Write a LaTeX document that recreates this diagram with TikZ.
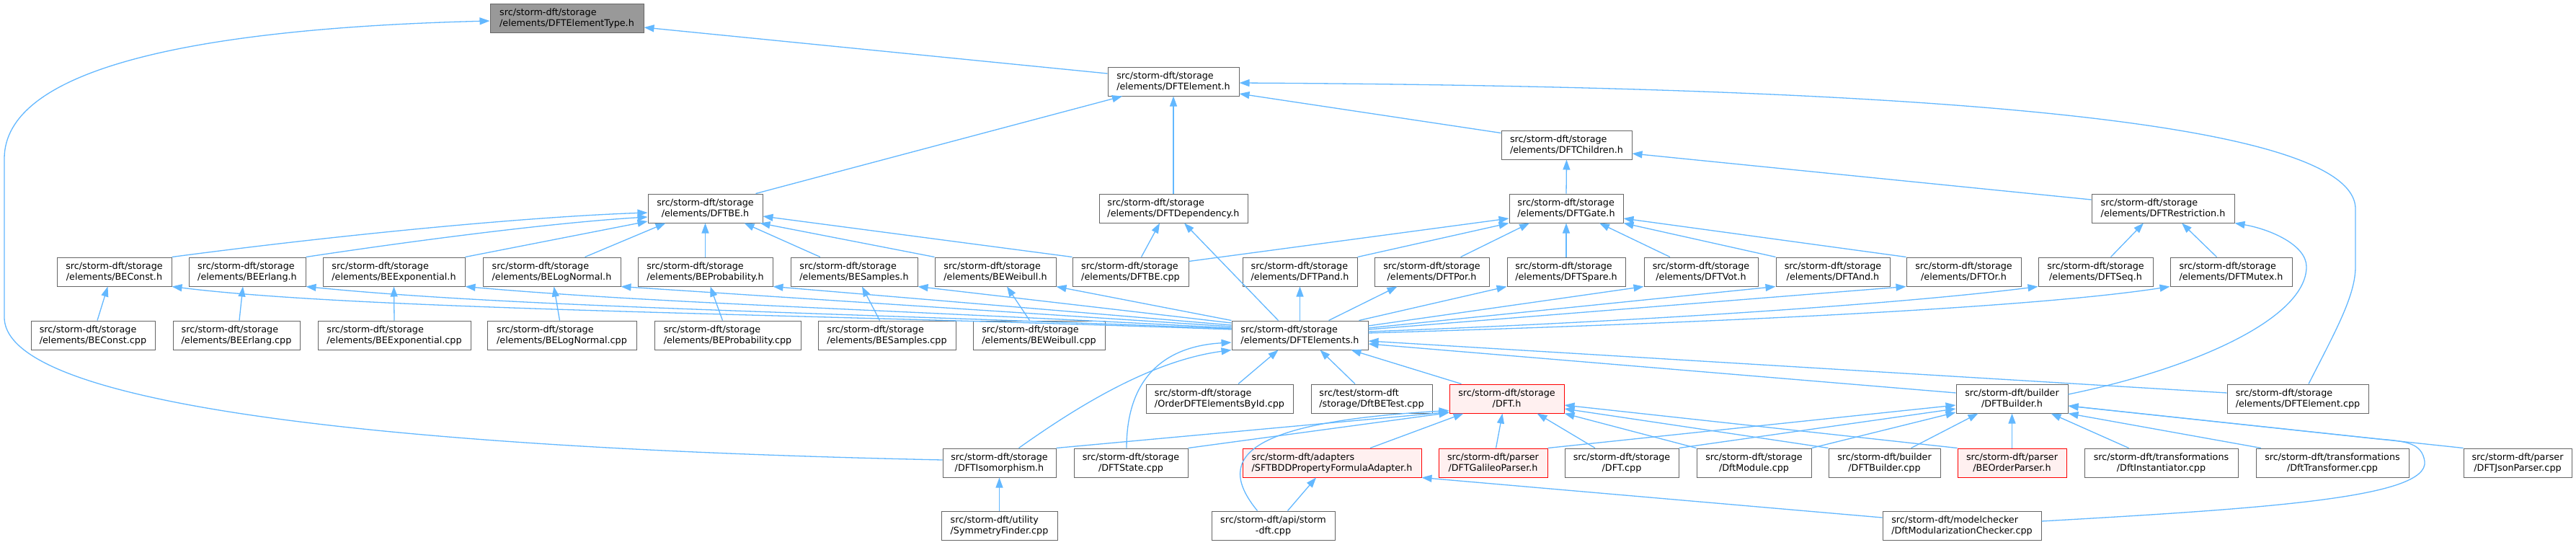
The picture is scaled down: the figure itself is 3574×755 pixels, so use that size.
\documentclass[tikz,border=0pt]{standalone}
\usepackage{fontspec}
\setmainfont{DejaVu Sans}
\usetikzlibrary{arrows.meta}
\definecolor{edgeblue}{HTML}{63B8FF}
\definecolor{boxgrey}{HTML}{666666}
\definecolor{mainfill}{HTML}{999999}
\definecolor{redfill}{HTML}{FFF0F0}
\definecolor{redline}{HTML}{FF0000}
\newcommand\dlbl[2]{%
  \setbox0=\hbox{#1}\setbox2=\hbox{#2}%
  \dimen0=\wd0 \ifdim\wd2>\dimen0 \dimen0=\wd2 \fi
  \vbox{\baselineskip=15pt \hbox to\dimen0{\box0\hfil}\hbox to\dimen0{\hfil\box2\hfil}}}
\tikzset{
  box/.style={draw=boxgrey, line width=1pt, fill=white, inner sep=0pt, minimum height=40pt,
    font=\fontsize{12.75}{15}\selectfont},
  redbox/.style={box, draw=redline, fill=redfill},
  incl/.style={draw=edgeblue, line width=1.3pt, -{Triangle[length=14pt,width=10pt]}, fill=none},
}
\begin{document}
\begin{tikzpicture}[x=1pt,y=-1pt]
\useasboundingbox (0,0) rectangle (3574,755);
\fill[white] (0,0) rectangle (3574,755);
% Row A-D
\node[box,fill=mainfill,minimum width=213pt] (ety) at (786.5,25) {\dlbl{src/storm-dft/storage}{/elements/DFTElementType.h}};
\node[box,minimum width=182pt] (elem) at (1628,113) {\dlbl{src/storm-dft/storage}{/elements/DFTElement.h}};
\node[box,minimum width=181pt] (chil) at (2173.5,201) {\dlbl{src/storm-dft/storage}{/elements/DFTChildren.h}};
\node[box,minimum width=159pt] (dftbe) at (978.5,289) {\dlbl{src/storm-dft/storage}{/elements/DFTBE.h}};
\node[box,minimum width=206pt] (dep) at (1628,289) {\dlbl{src/storm-dft/storage}{/elements/DFTDependency.h}};
\node[box,minimum width=158pt] (gate) at (2173,289) {\dlbl{src/storm-dft/storage}{/elements/DFTGate.h}};
\node[box,minimum width=198pt] (restr) at (3001,289) {\dlbl{src/storm-dft/storage}{/elements/DFTRestriction.h}};
% Row E
\node[box,minimum width=159pt] (beconsth) at (158.5,377) {\dlbl{src/storm-dft/storage}{/elements/BEConst.h}};
\node[box,minimum width=162pt] (beerlangh) at (343,377) {\dlbl{src/storm-dft/storage}{/elements/BEErlang.h}};
\node[box,minimum width=197pt] (beexph) at (546.5,377) {\dlbl{src/storm-dft/storage}{/elements/BEExponential.h}};
\node[box,minimum width=191pt] (belogh) at (765.5,377) {\dlbl{src/storm-dft/storage}{/elements/BELogNormal.h}};
\node[box,minimum width=187pt] (beprobh) at (978.5,377) {\dlbl{src/storm-dft/storage}{/elements/BEProbability.h}};
\node[box,minimum width=176pt] (besamph) at (1185,377) {\dlbl{src/storm-dft/storage}{/elements/BESamples.h}};
\node[box,minimum width=168pt] (beweibh) at (1381,377) {\dlbl{src/storm-dft/storage}{/elements/BEWeibull.h}};
\node[box,minimum width=161pt] (dftbecpp) at (1568.5,377) {\dlbl{src/storm-dft/storage}{/elements/DFTBE.cpp}};
\node[box,minimum width=159pt] (pand) at (1803.5,377) {\dlbl{src/storm-dft/storage}{/elements/DFTPand.h}};
\node[box,minimum width=159pt] (por) at (1986.5,377) {\dlbl{src/storm-dft/storage}{/elements/DFTPor.h}};
\node[box,minimum width=164pt] (spare) at (2173,377) {\dlbl{src/storm-dft/storage}{/elements/DFTSpare.h}};
\node[box,minimum width=158pt] (vot) at (2360,377) {\dlbl{src/storm-dft/storage}{/elements/DFTVot.h}};
\node[box,minimum width=158pt] (dand) at (2543,377) {\dlbl{src/storm-dft/storage}{/elements/DFTAnd.h}};
\node[box,minimum width=159pt] (dor) at (2724.5,377) {\dlbl{src/storm-dft/storage}{/elements/DFTOr.h}};
\node[box,minimum width=159pt] (seq) at (2907.5,377) {\dlbl{src/storm-dft/storage}{/elements/DFTSeq.h}};
\node[box,minimum width=169pt] (mutex) at (3095.5,377) {\dlbl{src/storm-dft/storage}{/elements/DFTMutex.h}};
% Row F
\node[box,minimum width=172pt] (beconstcpp) at (129,465) {\dlbl{src/storm-dft/storage}{/elements/BEConst.cpp}};
\node[box,minimum width=176pt] (beerlangcpp) at (328,465) {\dlbl{src/storm-dft/storage}{/elements/BEErlang.cpp}};
\node[box,minimum width=212pt] (beexpcpp) at (547,465) {\dlbl{src/storm-dft/storage}{/elements/BEExponential.cpp}};
\node[box,minimum width=207pt] (belogcpp) at (779.5,465) {\dlbl{src/storm-dft/storage}{/elements/BELogNormal.cpp}};
\node[box,minimum width=203pt] (beprobcpp) at (1009.5,465) {\dlbl{src/storm-dft/storage}{/elements/BEProbability.cpp}};
\node[box,minimum width=191pt] (besampcpp) at (1230.5,465) {\dlbl{src/storm-dft/storage}{/elements/BESamples.cpp}};
\node[box,minimum width=183pt] (beweibcpp) at (1441.5,465) {\dlbl{src/storm-dft/storage}{/elements/BEWeibull.cpp}};
\node[box,minimum width=189pt] (elems) at (1803.5,465) {\dlbl{src/storm-dft/storage}{/elements/DFTElements.h}};
% Row G
\node[box,minimum width=204pt] (order) at (1692,553) {\dlbl{src/storm-dft/storage}{/OrderDFTElementsById.cpp}};
\node[box,minimum width=168pt] (betest) at (1903,553) {\dlbl{src/test/storm-dft}{/storage/DftBETest.cpp}};
\node[redbox,minimum width=159pt] (dfth) at (2090.5,553) {\dlbl{src/storm-dft/storage}{/DFT.h}};
\node[box,minimum width=155pt] (dbh) at (2791.5,553) {\dlbl{src/storm-dft/builder}{/DFTBuilder.h}};
\node[box,minimum width=196pt] (elemcpp) at (3188,553) {\dlbl{src/storm-dft/storage}{/elements/DFTElement.cpp}};
% Row H
\node[box,minimum width=157pt] (iso) at (1386.5,642) {\dlbl{src/storm-dft/storage}{/DFTIsomorphism.h}};
\node[box,minimum width=158pt] (state) at (1569,642) {\dlbl{src/storm-dft/storage}{/DFTState.cpp}};
\node[redbox,minimum width=248pt] (sftbdd) at (1848,642) {\dlbl{src/storm-dft/adapters}{/SFTBDDPropertyFormulaAdapter.h}};
\node[redbox,minimum width=151pt] (galileo) at (2071.5,642) {\dlbl{src/storm-dft/parser}{/DFTGalileoParser.h}};
\node[box,minimum width=158pt] (dftcpp) at (2250,642) {\dlbl{src/storm-dft/storage}{/DFT.cpp}};
\node[box,minimum width=159pt] (module) at (2433.5,642) {\dlbl{src/storm-dft/storage}{/DftModule.cpp}};
\node[box,minimum width=155pt] (dbcpp) at (2614.5,642) {\dlbl{src/storm-dft/builder}{/DFTBuilder.cpp}};
\node[redbox,minimum width=151pt] (beorder) at (2791.5,642) {\dlbl{src/storm-dft/parser}{/BEOrderParser.h}};
\node[box,minimum width=213pt] (inst) at (2998.5,642) {\dlbl{src/storm-dft/transformations}{/DftInstantiator.cpp}};
\node[box,minimum width=212pt] (transf) at (3236,642) {\dlbl{src/storm-dft/transformations}{/DftTransformer.cpp}};
\node[box,minimum width=150pt] (json) at (3493,642) {\dlbl{src/storm-dft/parser}{/DFTJsonParser.cpp}};
% Row I
\node[box,minimum width=161pt] (symm) at (1386.5,729) {\dlbl{src/storm-dft/utility}{/SymmetryFinder.cpp}};
\node[box,minimum width=171pt] (sdft) at (1766.5,729) {\dlbl{src/storm-dft/api/storm}{-dft.cpp}};
\node[box,minimum width=220pt] (dmc) at (2722,729) {\dlbl{src/storm-dft/modelchecker}{/DftModularizationChecker.cpp}};

% ---- edges ----
\draw[incl] ([yshift=11pt]elem.west) -- ([yshift=-13pt]ety.east);
\draw[incl] ([yshift=4pt]iso.west) .. controls (700,625) and (6,580) .. (6,440) -- (6,220) .. controls (6,100) and (250,40) .. ([yshift=-4pt]ety.west);
\draw[incl] ([xshift=70pt]dftbe.north) -- ([xshift=-71pt]elem.south);
\draw[incl] (dep.north) -- (elem.south);
\draw[incl] ([yshift=-4pt]chil.north west) -- ([yshift=-17pt]elem.east);
\draw[incl] ([xshift=15pt]elemcpp.north) .. controls (3240,460) and (3268,410) .. (3268,370) -- (3268,290) .. controls (3268,160) and (2600,120) .. ([yshift=-2pt]elem.east);
\draw[incl] (gate.north) -- (chil.south);
\draw[incl] ([yshift=12pt]restr.west) -- ([yshift=-12pt]chil.east);
% BE headers -> DFTBE.h
\draw[incl] (beconsth.north east) .. controls (500,322) and (750,300) .. ([yshift=-6pt]dftbe.west);
\draw[incl] (beerlangh.north east) .. controls (600,330) and (780,308) .. ([yshift=-12pt]dftbe.west);
\draw[incl] (beexph.north east) -- ([yshift=-18pt]dftbe.west);
\draw[incl] ([xshift=46pt]belogh.north) -- ([xshift=-55pt]dftbe.south);
\draw[incl] (beprobh.north) -- (dftbe.south);
\draw[incl] ([xshift=-47pt]besamph.north) -- ([xshift=54pt]dftbe.south);
\draw[incl] (beweibh.north west) -- ([xshift=-4pt]dftbe.south east);
\draw[incl] (dftbecpp.north west) -- ([yshift=-11pt]dftbe.east);
\draw[incl] ([xshift=15pt]dftbecpp.north) -- ([xshift=-19pt]dep.south);
\draw[incl] ([xshift=-30pt]elems.north) -- ([xshift=15pt]dep.south);
\draw[incl] ([yshift=-6pt]dftbecpp.north east) -- ([yshift=-14pt]gate.west);
% gate includers
\draw[incl] (pand.north east) -- (gate.south west);
\draw[incl] ([xshift=40pt]por.north) -- ([xshift=-51pt]gate.south);
\draw[incl] (spare.north) -- (gate.south);
\draw[incl] ([xshift=-43pt]vot.north) -- ([xshift=46pt]gate.south);
\draw[incl] (dand.north west) -- (gate.south east);
\draw[incl] (dor.north west) -- ([yshift=-14pt]gate.east);
% restriction includers
\draw[incl] ([xshift=21pt]seq.north) -- ([xshift=-27pt]restr.south);
\draw[incl] ([xshift=-20pt]mutex.north) -- ([xshift=26pt]restr.south);
\draw[incl] ([yshift=6pt]dbh.east) .. controls (3050,510) and (3200,440) .. (3200,370) .. controls (3200,340) and (3150,318) .. (restr.south east);
% BE cpp -> BE h
\draw[incl] ([xshift=6pt]beconstcpp.north) -- ([xshift=-9pt]beconsth.south);
\draw[incl] ([xshift=4pt]beerlangcpp.north) -- ([xshift=-6pt]beerlangh.south);
\draw[incl] (beexpcpp.north) -- (beexph.south);
\draw[incl] ([xshift=-3pt]belogcpp.north) -- ([xshift=3pt]belogh.south);
\draw[incl] ([xshift=-7pt]beprobcpp.north) -- ([xshift=7pt]beprobh.south);
\draw[incl] ([xshift=-10pt]besampcpp.north) -- ([xshift=11pt]besamph.south);
\draw[incl] ([xshift=-13pt]beweibcpp.north) -- ([xshift=16pt]beweibh.south);
% DFTElements.h -> BE headers
\draw[incl] ([yshift=8pt]elems.west) .. controls (1100,435) and (500,430) .. (beconsth.south east);
\draw[incl] ([yshift=9pt]elems.west) .. controls (1100,432) and (700,425) .. (beerlangh.south east);
\draw[incl] ([yshift=10pt]elems.west) .. controls (1200,428) and (900,420) .. (beexph.south east);
\draw[incl] ([yshift=12pt]elems.west) -- (belogh.south east);
\draw[incl] ([yshift=14pt]elems.west) -- (beprobh.south east);
\draw[incl] ([yshift=17pt]elems.west) -- (besamph.south east);
\draw[incl] (elems.north west) -- (beweibh.south east);
% DFTElements.h -> gates
\draw[incl] (elems.north) -- (pand.south);
\draw[incl] ([xshift=40pt]elems.north) -- ([xshift=-48pt]por.south);
\draw[incl] ([xshift=82pt]elems.north) -- (spare.south west);
\draw[incl] ([yshift=13pt]elems.east) -- (vot.south west);
\draw[incl] ([yshift=10pt]elems.east) -- (dand.south west);
\draw[incl] ([yshift=8pt]elems.east) -- (dor.south west);
\draw[incl] ([yshift=5pt]elems.east) .. controls (2300,445) and (2650,420) .. (seq.south west);
\draw[incl] ([yshift=3pt]elems.east) .. controls (2300,450) and (2800,430) .. (mutex.south west);
% includers of DFTElements.h
\draw[incl] ([xshift=26pt]order.north) -- ([xshift=-30pt]elems.south);
\draw[incl] ([xshift=-23pt]betest.north) -- ([xshift=28pt]elems.south);
\draw[incl] ([xshift=-63pt]dfth.north) -- ([xshift=71pt]elems.south);
\draw[incl] ([yshift=8pt]elemcpp.west) -- ([yshift=-8pt]elems.east);
\draw[incl] ([yshift=8pt]dbh.west) -- ([yshift=-12pt]elems.east);
\draw[incl] ([xshift=27pt]iso.north) .. controls (1500,560) and (1600,500) .. (elems.south west);
\draw[incl] ([xshift=-6pt]state.north) .. controls (1563,520) and (1620,480) .. ([yshift=-10pt]elems.west);
% includers of DFT.h
\draw[incl] (iso.north east) -- ([yshift=2pt]dfth.south west);
\draw[incl] (state.north east) -- ([yshift=1pt]dfth.south west);
\draw[incl] ([xshift=-22pt]sdft.north) .. controls (1680,630) and (1740,585) .. ([yshift=4pt]dfth.south west);
\draw[incl] ([xshift=53pt]sftbdd.north) -- ([xshift=-60pt]dfth.south);
\draw[incl] ([xshift=4pt]galileo.north) -- ([xshift=-6pt]dfth.south);
\draw[incl] ([xshift=-37pt]dftcpp.north) -- ([xshift=42pt]dfth.south);
\draw[incl] (module.north west) -- (dfth.south east);
\draw[incl] (dbcpp.north west) -- ([yshift=-14pt]dfth.east);
\draw[incl] (beorder.north west) -- ([yshift=-9pt]dfth.east);
% includers of DFTBuilder.h
\draw[incl] (galileo.north east) -- ([yshift=-9pt]dbh.west);
\draw[incl] (dftcpp.north east) -- ([yshift=-14pt]dbh.west);
\draw[incl] (module.north east) -- ([yshift=-19pt]dbh.west);
\draw[incl] ([xshift=37pt]dbcpp.north) -- ([xshift=-47pt]dbh.south);
\draw[incl] (beorder.north) -- (dbh.south);
\draw[incl] ([xshift=-45pt]inst.north) -- ([xshift=54pt]dbh.south);
\draw[incl] ([xshift=-99pt]transf.north) -- (dbh.south east);
\draw[incl] (json.north west) -- ([yshift=-10pt]dbh.east);
\draw[incl] ([yshift=6pt]dmc.east) .. controls (3150,705) and (3370,690) .. (3364,640) .. controls (3360,615) and (3340,612) .. (3300,609) -- ([yshift=-10pt]dbh.east);
% includers of SFTBDD adapter
\draw[incl] ([xshift=20pt]sdft.north) -- ([xshift=-22pt]sftbdd.south);
\draw[incl] ([yshift=11pt]dmc.west) -- (sftbdd.south east);
\draw[incl] (symm.north) -- (iso.south);
\end{tikzpicture}
\end{document}
